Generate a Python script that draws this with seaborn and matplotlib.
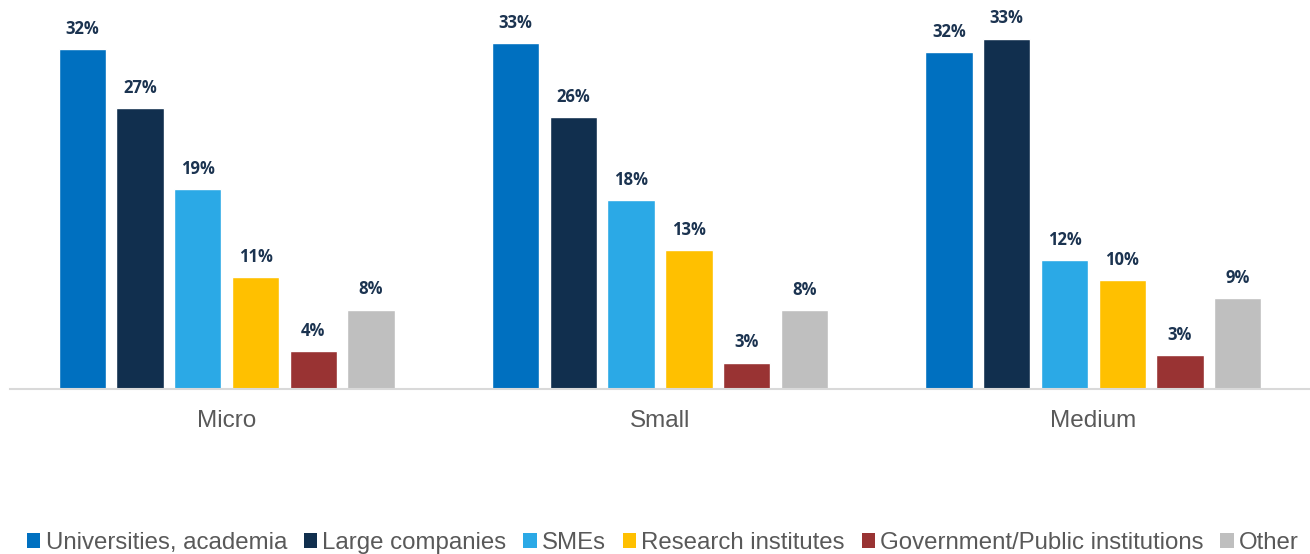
import matplotlib
matplotlib.use("Agg")
import matplotlib.pyplot as plt
from matplotlib.patches import Patch
import pandas as pd
import seaborn as sns

# ---- data ----
sizes = ["Micro", "Small", "Medium"]
partners = ["Universities, academia", "Large companies", "SMEs",
            "Research institutes", "Government/Public institutions", "Other"]
universities = [32.4, 32.95, 32.1]
large_companies = [26.8, 25.9, 33.4]
smes = [19.1, 18.0, 12.35]
research = [10.7, 13.3, 10.4]
government = [3.65, 2.55, 3.25]
other = [7.6, 7.55, 8.7]

palette = ["#0070C0", "#112F4E", "#2BA9E6", "#FFC000", "#993333", "#BFBFBF"]

series = [universities, large_companies, smes, research, government, other]
rows = []
for partner, vals in zip(partners, series):
    for size, v in zip(sizes, vals):
        rows.append({"size": size, "partner": partner, "share": v})
df = pd.DataFrame(rows)

sns.set_style("white")
plt.rcParams["font.family"] = ["Liberation Sans", "DejaVu Sans"]

fig = plt.figure(figsize=(13.1, 5.54), dpi=100)
ax = fig.add_axes([10 / 1310, 164.7 / 554, 1300 / 1310, 389.3 / 554])

sns.barplot(data=df, x="size", y="share", hue="partner", order=sizes,
            hue_order=partners, palette=palette, width=0.8, gap=0.18,
            saturation=1, legend=False, ax=ax)

# value labels, rounded like the source
for cont, vals in zip(ax.containers, series):
    ax.bar_label(cont, labels=[f"{round(v)}%" for v in vals], padding=8,
                 fontsize=12, fontweight="bold", color="#1B3350",
                 family=["Open Sans", "DejaVu Sans"])

ax.set_ylim(0, 389.3 / 10.5)
ax.set_xlim(-0.5, 2.5)
ax.set_xlabel("")
ax.set_ylabel("")
ax.set_yticks([])
ax.tick_params(axis="x", length=0, pad=15, labelsize=17.5, labelcolor="#595959")
for side in ["top", "left", "right"]:
    ax.spines[side].set_visible(False)
ax.spines["bottom"].set_color("#D9D9D9")
ax.spines["bottom"].set_linewidth(1.5)

handles = [Patch(facecolor=c, edgecolor="none") for c in palette]
fig.legend(handles, partners, loc="center", bbox_to_anchor=(663 / 1310, 1 - 543 / 554),
           ncol=6, frameon=False, fontsize=17.3, labelcolor="#595959",
           handlelength=0.55, handleheight=0.55, handletextpad=0.22,
           columnspacing=0.7, borderpad=0, borderaxespad=0)

fig.savefig("out.png", dpi=100)
